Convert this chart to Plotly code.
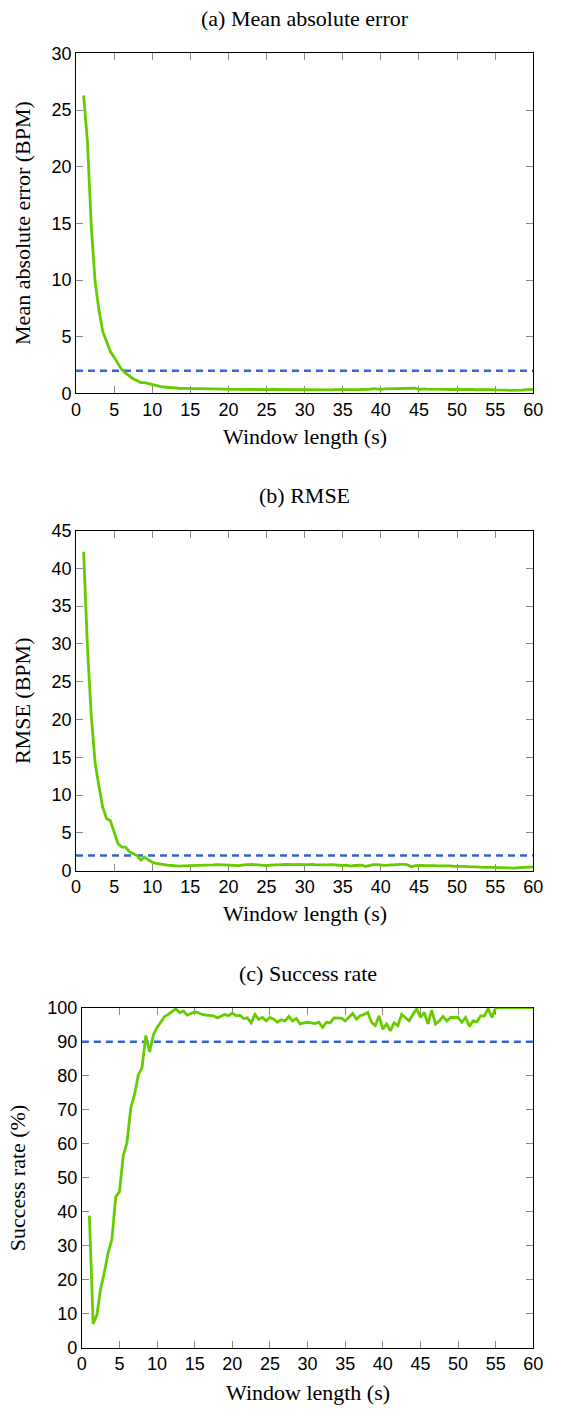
import numpy as np
import plotly.graph_objects as go

# Window lengths (s)
window = np.arange(1, 60.25, 0.5)

mae = [
    26.3, 22.2, 14.8, 9.9, 7.4, 5.5, 4.6, 3.7, 3.2, 2.6,
    2.1, 1.8, 1.55, 1.3, 1.15, 0.95, 0.95, 0.85, 0.75, 0.68,
    0.62, 0.57, 0.53, 0.5, 0.48, 0.46, 0.45, 0.44, 0.44, 0.43,
    0.42, 0.42, 0.41, 0.42, 0.40, 0.39, 0.40, 0.38, 0.38, 0.37,
    0.36, 0.37, 0.35, 0.36, 0.34, 0.35, 0.36, 0.33, 0.34, 0.35,
    0.34, 0.33, 0.35, 0.34, 0.33, 0.34, 0.32, 0.33, 0.34, 0.33,
    0.34, 0.33, 0.35, 0.34, 0.33, 0.32, 0.34, 0.33, 0.35, 0.34,
    0.33, 0.32, 0.34, 0.35, 0.33, 0.36, 0.42, 0.38, 0.37, 0.40,
    0.41, 0.40, 0.39, 0.42, 0.41, 0.40, 0.43, 0.46, 0.35, 0.40,
    0.38, 0.39, 0.37, 0.38, 0.36, 0.37, 0.35, 0.36, 0.34, 0.36,
    0.35, 0.34, 0.36, 0.33, 0.34, 0.32, 0.33, 0.34, 0.31, 0.32,
    0.30, 0.29, 0.28, 0.27, 0.26, 0.30, 0.33, 0.35, 0.36,
]

rmse = [
    42.2, 29.5, 20.5, 14.3, 11.2, 8.4, 6.9, 6.6, 5.1, 3.6,
    3.1, 3.1, 2.5, 2.2, 2.0, 1.4, 1.8, 1.4, 1.1, 0.95,
    0.85, 0.8, 0.72, 0.68, 0.62, 0.6, 0.62, 0.63, 0.6, 0.65,
    0.7, 0.68, 0.72, 0.7, 0.75, 0.8, 0.76, 0.72, 0.75, 0.7,
    0.6, 0.65, 0.75, 0.8, 0.82, 0.78, 0.72, 0.68, 0.65, 0.72,
    0.78, 0.75, 0.8, 0.82, 0.78, 0.8, 0.82, 0.85, 0.8, 0.78,
    0.82, 0.75, 0.72, 0.7, 0.75, 0.78, 0.72, 0.7, 0.68, 0.72,
    0.6, 0.68, 0.75, 0.72, 0.55, 0.72, 0.8, 0.78, 0.72, 0.7,
    0.72, 0.75, 0.78, 0.8, 0.85, 0.75, 0.5, 0.65, 0.7, 0.68,
    0.65, 0.7, 0.66, 0.62, 0.65, 0.6, 0.62, 0.58, 0.6, 0.58,
    0.55, 0.52, 0.55, 0.5, 0.45, 0.48, 0.44, 0.42, 0.45, 0.4,
    0.38, 0.35, 0.36, 0.34, 0.38, 0.42, 0.45, 0.48, 0.5,
]

success = [
    38.8, 7.0, 9.7, 17.4, 22.3, 28.0, 32.0, 44.4, 45.9, 56.5,
    60.4, 70.5, 74.4, 80.2, 82.4, 91.8, 87.0, 92.0, 94.2, 95.7,
    97.4, 98.0, 98.8, 99.7, 98.5, 99.0, 97.8, 98.3, 98.7, 98.5,
    98.0, 97.8, 97.6, 97.6, 97.0, 97.4, 98.0, 97.6, 98.4, 97.6,
    97.8, 96.8, 97.0, 95.5, 98.0, 96.6, 97.1, 96.1, 97.1, 96.6,
    95.7, 96.4, 96.1, 97.4, 96.1, 96.8, 95.2, 95.5, 95.7, 95.5,
    95.3, 95.7, 94.2, 95.7, 95.5, 97.0, 97.0, 96.9, 96.1, 97.1,
    98.3, 96.6, 97.6, 98.0, 98.6, 95.7, 94.7, 97.6, 93.7, 95.2,
    93.2, 95.5, 94.7, 98.0, 97.1, 96.1, 98.0, 99.7, 97.1, 98.6,
    95.2, 99.3, 95.2, 96.1, 97.4, 96.1, 97.1, 97.1, 97.1, 95.7,
    97.1, 94.5, 96.1, 95.8, 97.6, 97.6, 99.7, 97.1, 100, 100,
    100, 100, 100, 100, 100, 100, 100, 100, 100,
]

assert len(window) == len(mae) == len(rmse) == len(success), (len(window), len(mae), len(rmse), len(success))

thresholds = [2, 2, 90]
titles = ["(a) Mean absolute error", "(b) RMSE", "(c) Success rate"]
ytitles = ["Mean absolute error (BPM)", "RMSE (BPM)", "Success rate (%)"]
xtitle = "Window length (s)"
yranges = [[0, 30], [0, 45], [0, 100]]
ydtick = [5, 5, 10]

# The page body keeps the browser's default 8px margin, so the figure is
# sized to fill the 570x1426 window exactly inside that margin.
PAGE_W, PAGE_H, OFF = 570, 1426, 8
W, H = PAGE_W - 2 * OFF, PAGE_H - 2 * OFF

def px(x):
    return (x - OFF) / W

def py(y):
    return 1 - (y - OFF) / H

# plot area boxes in page pixels: (left, right, top, bottom)
boxes = [(81, 551, 52, 397), (81, 551, 536, 881), (87, 551, 1020, 1365)]
title_y = [17, 500, 985]
xtitle_y = [441, 925, 1410]
ytitle_x = [26, 26, 21]

GREEN = "#66cc00"
BLUE = "#3366cc"
SERIF = "Liberation Serif"
SANS = "Liberation Sans"
TXT = 22

fig = go.Figure()
series = [mae, rmse, success]
annotations = []
for i in range(3):
    xa = "x" if i == 0 else f"x{i+1}"
    ya = "y" if i == 0 else f"y{i+1}"
    fig.add_trace(go.Scatter(x=[0, 60], y=[thresholds[i]] * 2, mode="lines",
                             line=dict(color=BLUE, width=2.5, dash="7px,5px"),
                             xaxis=xa, yaxis=ya, showlegend=False, hoverinfo="skip"))
    fig.add_trace(go.Scatter(x=window, y=series[i], mode="lines",
                             line=dict(color=GREEN, width=2.8),
                             xaxis=xa, yaxis=ya, showlegend=False,
                             cliponaxis=False))
    l, r, t, b = boxes[i]
    axcommon = dict(showline=True, linecolor="black", linewidth=1, mirror="ticks",
                    ticks="inside", ticklen=7, tickcolor="#888", tickwidth=1,
                    showgrid=False, zeroline=False, ticklabeloverflow="allow",
                    tickfont=dict(family=SANS, size=18, color="black"),
                    layer="below traces")
    xkey = "xaxis" if i == 0 else f"xaxis{i+1}"
    ykey = "yaxis" if i == 0 else f"yaxis{i+1}"
    fig.update_layout(**{
        xkey: dict(domain=[px(l), px(r)], range=[0, 60], dtick=5, tick0=0,
                   anchor=ya, **axcommon),
        ykey: dict(domain=[py(b), py(t)], range=yranges[i], dtick=ydtick[i], tick0=0,
                   anchor=xa, **axcommon),
    })
    cx = px((l + r) / 2)
    annotations.append(dict(text=titles[i], x=cx, y=py(title_y[i]), xref="paper", yref="paper",
                            showarrow=False, xanchor="center", yanchor="middle",
                            font=dict(family=SERIF, size=TXT, color="black")))
    annotations.append(dict(text=xtitle, x=cx, y=py(xtitle_y[i]), xref="paper", yref="paper",
                            showarrow=False, xanchor="center", yanchor="middle",
                            font=dict(family=SERIF, size=TXT, color="black")))
    annotations.append(dict(text=ytitles[i], x=px(ytitle_x[i]), y=py((t + b) / 2),
                            xref="paper", yref="paper", textangle=-90,
                            showarrow=False, xanchor="center", yanchor="middle",
                            font=dict(family=SERIF, size=TXT, color="black")))

fig.update_layout(width=W, height=H, margin=dict(l=0, r=0, t=0, b=0),
                  plot_bgcolor="white", paper_bgcolor="white",
                  annotations=annotations, showlegend=False)

fig.write_html("out.html")
